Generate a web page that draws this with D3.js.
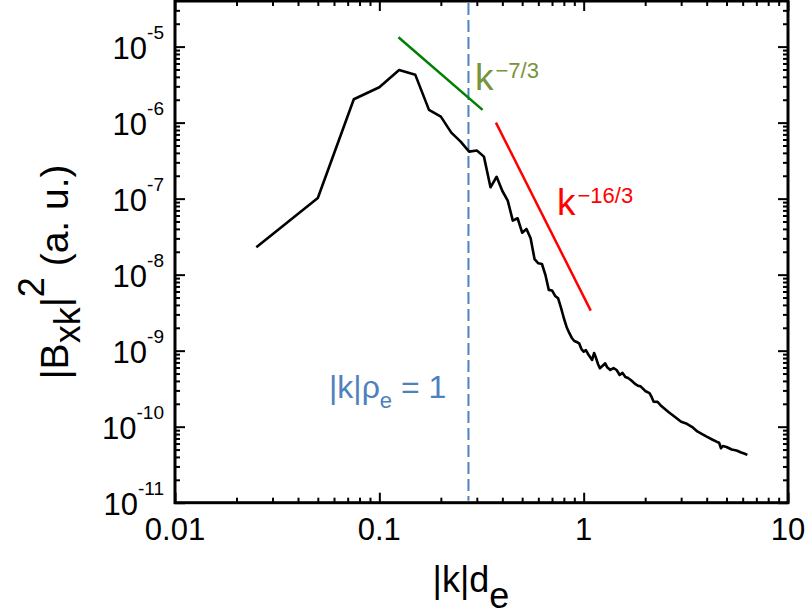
<!DOCTYPE html>
<html>
<head>
<meta charset="utf-8">
<script src="https://cdn.jsdelivr.net/npm/d3@7"></script>
<style>
  html, body { margin: 0; padding: 0; background: #ffffff; }
  svg { display: block; font-family: "Liberation Sans", Arial, sans-serif; }
</style>
</head>
<body>
<svg id="chart" width="810" height="616"></svg>
<script>
// ---------------- data ----------------
const kVals = [0.025,0.05,0.075,0.1,0.125,0.15,0.175,0.2,0.225,0.25,0.275,0.3,0.325,0.35,0.375,0.4,0.425,0.45,0.475,0.5,
  0.525,0.55,0.575,0.6,0.625,0.65,0.675,0.7,0.725,0.75,0.775,0.8,0.825,0.85,0.875,0.9,0.925,0.95,0.975,1.0,
  1.025,1.05,1.075,1.1,1.125,1.15,1.175,1.2,1.25,1.275,1.3,1.35,1.4,1.45,1.5,1.55,1.6,1.65,1.7,
  1.8,1.85,1.9,2.0,2.1,2.15,2.2,2.3,2.4,2.6,2.8,3.0,
  3.2,3.4,3.6,3.8,4.0,4.3,4.5,4.6,4.7,4.8,5.0,5.3,5.6,5.9,6.1,6.325];
const bxkVals = [2.30e-8,1.02e-7,2.03e-6,2.92e-6,4.93e-6,4.25e-6,1.47e-6,1.20e-6,7.38e-7,5.62e-7,4.15e-7,4.29e-7,3.57e-7,1.41e-7,1.94e-7,1.26e-7,9.4e-8,5.14e-8,5.52e-8,3.57e-8,
  3.99e-8,3.01e-8,1.60e-8,1.41e-8,1.38e-8,9.9e-9,6.3e-9,6.2e-9,5.25e-9,4.89e-9,3.65e-9,2.67e-9,2.05e-9,1.71e-9,1.47e-9,1.34e-9,1.30e-9,1.25e-9,1.05e-9,9.7e-10,
  1.02e-9,9.06e-10,8.26e-10,7.55e-10,9.33e-10,8.0e-10,6.68e-10,5.86e-10,6.49e-10,6.82e-10,6.11e-10,5.57e-10,5.91e-10,5.57e-10,4.79e-10,5.10e-10,4.51e-10,4.37e-10,4.11e-10,
  3.59e-10,3.44e-10,3.40e-10,2.95e-10,2.77e-10,2.46e-10,2.13e-10,2.12e-10,1.87e-10,1.56e-10,1.34e-10,1.16e-10,
  1.09e-10,9.9e-11,8.65e-11,8.0e-11,7.38e-11,6.68e-11,6.3e-11,6.15e-11,5.20e-11,5.57e-11,5.41e-11,5.01e-11,4.86e-11,4.58e-11,4.44e-11,4.25e-11];

// reference power-law segments (endpoints)
const greenK = [0.124, 0.32];
const greenV = [1.33e-5, 1.47e-6];
const redK = [0.372, 1.083];
const redV = [1.0e-6, 3.36e-9];
const rhoK = 0.273; // |k|rho_e = 1

// axis ticks
const xMajor = [0.01, 0.1, 1, 10];
const xTickLabels = ["0.01", "0.1", "1", "10"];
const yMajor = [1e-11, 1e-10, 1e-9, 1e-8, 1e-7, 1e-6, 1e-5];
const yExponents = ["-11", "-10", "-9", "-8", "-7", "-6", "-5"];
const xDomain = [0.01, 10];
const yDomain = [1e-11, 3.98e-5];

// ---------------- layout ----------------
const L = 175, R = 788, T = 1, B = 502.7;
const svg = d3.select("#chart");
const x = d3.scaleLog().domain(xDomain).range([L, R]);
const y = d3.scaleLog().domain(yDomain).range([B, T]);

function minorTicks(scale) {
  const [a, b] = scale.domain();
  const out = [];
  for (let e = Math.floor(Math.log10(a)); e <= Math.ceil(Math.log10(b)); e++) {
    for (let m = 2; m <= 9; m++) {
      const v = m * Math.pow(10, e);
      if (v > a && v < b) out.push(v);
    }
  }
  return out;
}
const xMinor = minorTicks(x);
const yMinor = minorTicks(y);

function addAxis(axisFn, pos, scale, values, size) {
  const g = svg.append("g").attr("transform", pos)
    .call(axisFn(scale).tickValues(values).tickSize(size).tickFormat(""));
  g.select(".domain").remove();
  g.selectAll(".tick line").attr("stroke", "#000").attr("stroke-width", 2);
  return g;
}
// inward ticks (negative sizes point into the plot)
addAxis(d3.axisBottom, `translate(0,${B})`, x, xMajor, -10);
addAxis(d3.axisBottom, `translate(0,${B})`, x, xMinor, -5);
addAxis(d3.axisTop, `translate(0,${T})`, x, xMajor, -10);
addAxis(d3.axisTop, `translate(0,${T})`, x, xMinor, -5);
addAxis(d3.axisLeft, `translate(${L},0)`, y, yMajor, -10);
addAxis(d3.axisLeft, `translate(${L},0)`, y, yMinor, -5);
addAxis(d3.axisRight, `translate(${R},0)`, y, yMajor, -10);
addAxis(d3.axisRight, `translate(${R},0)`, y, yMinor, -5);

// frame
svg.append("rect").attr("x", L).attr("y", T).attr("width", R - L).attr("height", B - T)
  .attr("fill", "none").attr("stroke", "#000").attr("stroke-width", 3);

// x tick labels
svg.append("g").selectAll("text").data(xMajor).join("text")
  .attr("x", d => x(d)).attr("y", 540)
  .attr("text-anchor", "middle").attr("font-size", 31).attr("fill", "#000")
  .text((d, i) => xTickLabels[i]);

// y tick labels 10^n
const yl = svg.append("g").selectAll("text").data(yMajor).join("text")
  .attr("x", 164).attr("y", d => y(d) + 12)
  .attr("text-anchor", "end").attr("font-size", 31).attr("fill", "#000");
yl.append("tspan").text("10");
yl.append("tspan").attr("font-size", 19).attr("dy", -20).text((d, i) => yExponents[i]);

// vertical dashed line |k|rho_e = 1
svg.append("line")
  .attr("x1", x(rhoK)).attr("x2", x(rhoK)).attr("y1", T + 2).attr("y2", B - 2)
  .attr("stroke", "#4F81BD").attr("stroke-width", 2).attr("stroke-dasharray", "12,5");

// reference slopes
const line = d3.line().x(d => x(d[0])).y(d => y(d[1]));
svg.append("path").attr("d", line(greenK.map((k, i) => [k, greenV[i]])))
  .attr("fill", "none").attr("stroke", "#008000").attr("stroke-width", 2.5);
svg.append("path").attr("d", line(redK.map((k, i) => [k, redV[i]])))
  .attr("fill", "none").attr("stroke", "#FF0000").attr("stroke-width", 2.5);

// spectrum
svg.append("path").attr("d", line(kVals.map((k, i) => [k, bxkVals[i]])))
  .attr("fill", "none").attr("stroke", "#000").attr("stroke-width", 2.6)
  .attr("stroke-linejoin", "round");

// annotations
const t1 = svg.append("text").attr("x", 475).attr("y", 90).attr("fill", "#77933C").attr("font-size", 37);
t1.append("tspan").text("k");
t1.append("tspan").attr("font-size", 22).attr("dy", -12).attr("dx", 2).text("\u22127/3");

const t2 = svg.append("text").attr("x", 557).attr("y", 215).attr("fill", "#FF0000").attr("font-size", 37);
t2.append("tspan").text("k");
t2.append("tspan").attr("font-size", 22).attr("dy", -12).attr("dx", 2).text("\u221216/3");

const t3 = svg.append("text").attr("x", 329).attr("y", 398).attr("fill", "#4F81BD").attr("font-size", 32);
t3.append("tspan").text("|k|\u03C1");
t3.append("tspan").attr("font-size", 22).attr("dy", 10).text("e");
t3.append("tspan").attr("dy", -10).text(" = 1");

// x axis label
const xl = svg.append("text").attr("x", 471).attr("y", 592).attr("text-anchor", "middle")
  .attr("font-size", 36).attr("fill", "#000");
xl.append("tspan").text("|k|d");
xl.append("tspan").attr("dy", 16).text("e");

// y axis label
const ylab = svg.append("text").attr("transform", "translate(68,272) rotate(-90)")
  .attr("text-anchor", "middle").attr("font-size", 39).attr("fill", "#000");
ylab.append("tspan").text("|B");
ylab.append("tspan").attr("font-size", 36).attr("dy", 12).text("xk");
ylab.append("tspan").attr("dy", -12).text("|");
ylab.append("tspan").attr("font-size", 36).attr("dy", -24).text("2");
ylab.append("tspan").attr("dy", 24).text(" (a. u.)");
</script>
</body>
</html>
